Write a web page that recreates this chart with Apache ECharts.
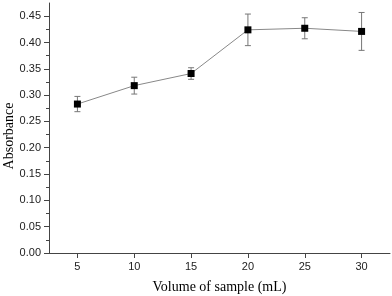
<!DOCTYPE html>
<html><head><meta charset="utf-8">
<script src="https://cdn.jsdelivr.net/npm/echarts@6/dist/echarts.min.js"></script>
<style>html,body{margin:0;padding:0;background:#fff}#c{width:392px;height:296px}</style>
</head><body><div id="c"></div>
<script>
var volumes = [5, 10, 15, 20, 25, 30];
var absorbance = [0.283, 0.318, 0.341, 0.424, 0.427, 0.421];
var errors = [0.0145, 0.016, 0.011, 0.030, 0.020, 0.036];
var xTicks = [5, 10, 15, 20, 25, 30];
var yTicks = [0, 0.05, 0.10, 0.15, 0.20, 0.25, 0.30, 0.35, 0.40, 0.45];

var chart = echarts.init(document.getElementById('c'), null, {renderer: 'canvas'});
var lineData = volumes.map(function (v, i) { return [v, absorbance[i]]; });
var errData = volumes.map(function (v, i) { return [v, absorbance[i] - errors[i], absorbance[i] + errors[i]]; });

chart.setOption({
  animation: false,
  grid: {left: 49, right: 2, top: 3, bottom: 43, containLabel: false, outerBoundsMode: 'none'},
  xAxis: {
    type: 'value', min: 2.5, max: 32.5, interval: 5,
    name: 'Volume of sample (mL)', nameLocation: 'middle', nameGap: 27, nameMoveOverlap: false,
    nameTextStyle: {fontFamily: 'Liberation Serif', fontSize: 14, color: '#000'},
    axisLine: {show: true, onZero: false, lineStyle: {color: '#444', width: 1}},
    axisTick: {show: true, length: 5, inside: false, lineStyle: {color: '#444'},
      customValues: xTicks},
    minorTick: {show: true, splitNumber: 2, length: 3, lineStyle: {color: '#444'}},
    axisLabel: {fontFamily: 'Liberation Sans', fontSize: 11, color: '#222', margin: 8,
      customValues: xTicks},
    splitLine: {show: false}
  },
  yAxis: {
    type: 'value', min: 0, max: 0.475, interval: 0.05,
    name: 'Absorbance', nameLocation: 'middle', nameGap: 33, nameMoveOverlap: false,
    nameTextStyle: {fontFamily: 'Liberation Serif', fontSize: 14, color: '#000', padding: [0, 16, 0, 0]},
    axisLine: {show: true, lineStyle: {color: '#444', width: 1}},
    axisTick: {show: true, length: 5, lineStyle: {color: '#444'}, customValues: yTicks},
    minorTick: {show: true, splitNumber: 2, length: 3, lineStyle: {color: '#444'}},
    axisLabel: {fontFamily: 'Liberation Sans', fontSize: 11, color: '#222', margin: 8,
      customValues: yTicks,
      formatter: function (v) { return v.toFixed(2); }},
    splitLine: {show: false}
  },
  series: [
    {
      type: 'custom',
      data: errData,
      z: 1,
      renderItem: function (params, api) {
        var x = api.value(0);
        var lo = api.coord([x, api.value(1)]);
        var hi = api.coord([x, api.value(2)]);
        var hw = 3;
        var st = {stroke: '#777', lineWidth: 1};
        return {
          type: 'group',
          children: [
            {type: 'line', shape: {x1: lo[0], y1: lo[1], x2: hi[0], y2: hi[1]}, style: st},
            {type: 'line', shape: {x1: lo[0] - hw, y1: lo[1], x2: lo[0] + hw, y2: lo[1]}, style: st},
            {type: 'line', shape: {x1: hi[0] - hw, y1: hi[1], x2: hi[0] + hw, y2: hi[1]}, style: st}
          ]
        };
      }
    },
    {
      type: 'line',
      data: lineData,
      z: 2,
      symbol: 'rect',
      symbolSize: 7,
      itemStyle: {color: '#000'},
      lineStyle: {color: '#888', width: 1}
    }
  ]
});
</script></body></html>
